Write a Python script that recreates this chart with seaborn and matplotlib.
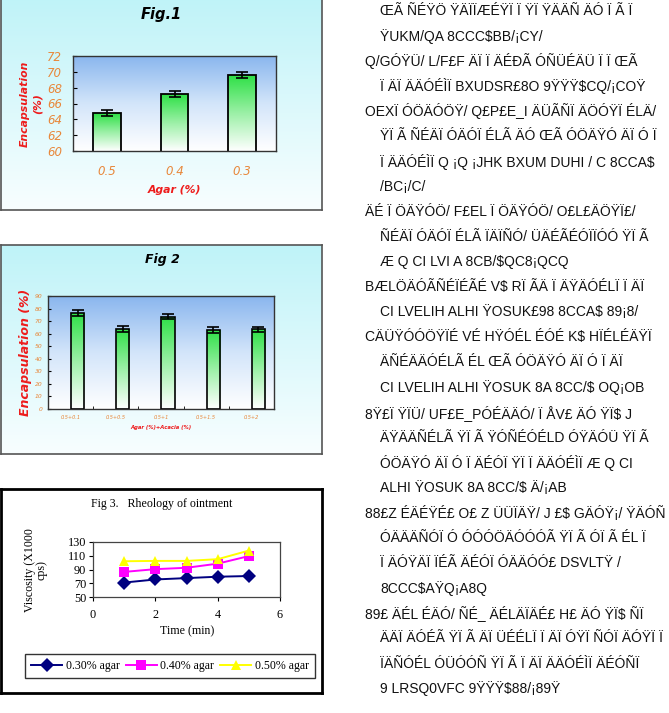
import numpy as np
import pandas as pd
import matplotlib
matplotlib.use("Agg")
import matplotlib.pyplot as plt
from matplotlib.colors import LinearSegmentedColormap
import seaborn as sns

# ---- data ----
fig1_agar = ["0.5", "0.4", "0.3"]
fig1_encaps = [64.8, 67.2, 69.6]
fig1_err = [0.4, 0.35, 0.4]

fig2_mix = ["0.5+0.1", "0.5+0.5", "0.5+1", "0.5+1.5", "0.5+2"]
fig2_encaps = [76.6, 63.9, 73.5, 63.1, 63.4]
fig2_err = [2.2, 2.2, 2.2, 2.2, 2.2]

fig3_time = [1, 2, 3, 4, 5]
fig3_agar030 = [71, 75.5, 77.5, 79.5, 80.5]
fig3_agar040 = [86.5, 90.5, 92.5, 98.5, 109.5]
fig3_agar050 = [102, 102.5, 102.5, 105, 117.5]
fig3_labels = ["0.30% agar", "0.40% agar", "0.50% agar"]

# garbled text column on the right (as it appears in the scan)
side_text = [
    (1, "ŒÃ ÑÉŸÖ ŸÄÏÏÆÉŸÏ Ï ŸÏ ŸÄÄÑ ÄÓ Ï Ã Ï ÄÄÓÉÌÉ"),
    (1, "ŸUKM/QA 8CCC$BB/¡CY/"),
    (0, "Q/GÓŸÜ/ L/F£F ÄÏ Ï ÄÉÐÃ ÓÑÜÉÄÜ Ï Ï ŒÃ ŒÃÄÓŸÑÄÖŒÃÓ"),
    (1, "Ï ÄÏ ÄÄÓÉÌÏ BXUDSR£8O 9ŸŸŸ$CQ/¡COŸ"),
    (0, "OEXÏ ÓÖÄÓÖŸ/ Q£P£E_I ÄÜÃÑÏ ÄÖÓŸÏ ÉLÄ/ ÄÑÏ ÄÖÓŸÏ ÉLÄ/"),
    (1, "ŸÏ Ã ÑÉÄÏ ÓÄÓÏ ÉLÃ ÄÓ ŒÃ ÓÖÄŸÓ ÄÏ Ó Ï ÄÏ Ï ÓÄÉÃ"),
    (1, "Ï ÄÄÓÉÌÏ Q ¡Q ¡JHK BXUM DUHI / C 8CCA$"),
    (1, "/BC¡/C/"),
    (0, "ÄÉ Ï ÖÄŸÓÖ/ F£EL Ï ÖÄŸÓÖ/ O£L£ÄÖŸÏ£/ UIŸÓÏ Ÿ"),
    (1, "ÑÉÄÏ ÓÄÓÏ ÉLÃ ÏÄÏÑÓ/ ÜÄÉÃÉÓÏÏÓÓ ŸÏ Ã ÓÉÃÃ ÄÄÑÄÄÓ£"),
    (1, "Æ Q CI LVI A 8CB/$QC8¡QCQ"),
    (0, "BÆLÖÄÓÃÑÉÏÉÃÉ V$ RÏ ÃÄ Ï ÄŸÄÓÉLÏ Ï ÄÏ ÓÏÉÓÓŸÓ Æ Q"),
    (1, "CI LVELIH ALHI ŸOSUK£98 8CCA$ 89¡8/"),
    (0, "CÄÜŸÓÓÖŸÏÉ VÉ HŸÓÉL ÉÓÉ K$ HÏÉLÉÄŸÏ ŸÓÑÄÄÓ Ï Ã"),
    (1, "ÄÑÉÄÄÓÉLÃ ÉL ŒÃ ÓÖÄŸÓ ÄÏ Ó Ï ÄÏ ÄÄÓÉÌÏ Æ Q"),
    (1, "CI LVELIH ALHI ŸOSUK 8A 8CC/$ OQ¡OB"),
    (0, "8Ÿ£Ï ŸÏÜ/ UF£E_PÓÉÄÄÓ/ Ï ÅV£ ÄÓ ŸÏ$ J ÑÉÄÄÓÉLÄ/"),
    (1, "ÄŸÄÄÑÉLÃ ŸÏ Ã ŸÓÑÉÓÉLD ÓŸÄÓÜ ŸÏ Ã ÄÄÉÄŸÄÜ ÄÓ"),
    (1, "ÓÖÄŸÓ ÄÏ Ó Ï ÄÉÓÏ ŸÏ Ï ÄÄÓÉÌÏ Æ Q CI LVELIH"),
    (1, "ALHI ŸOSUK 8A 8CC/$ Ä/¡AB"),
    (0, "88£Z ÉÄÉŸÉ£ O£ Z ÜÜÏÄŸ/ J £$ GÄÓŸ¡/ ŸÄÓÑ ÄÓÄÉÄ"),
    (1, "ÓÄÄÄÑÓÏ Ó ÓÓÓÖÄÓÓÓÃ ŸÏ Ã ÓÏ Ã ÉL Ï ÄÄÓÉÌÏ ŸÏ Ã"),
    (1, "Ï ÄÓŸÄÏ ÏÉÃ ÄÉÓÏ ÓÄÄÓÓ£ DSVLTŸ / ÓMALK Ÿ SVZ_ Q/"),
    (1, "8CCC$AŸQ¡A8Q"),
    (0, "89£ ÄÉL ÉÄÓ/ ÑÉ_ ÄÉLÄÏÄÉ£ H£ ÄÓ ŸÏ$ ÑÏ ÓÄÓŸÄÓÉLÏ Ï Ã"),
    (1, "ÄÄÏ ÄÓÉÃ ŸÏ Ã ÄÏ ÜÉÉLÏ Ï ÄÏ ÓŸÏ ÑÓÏ ÄÓŸÏ Ï ÉLÃ Ï ÄÓÉÃ"),
    (1, "ÏÄÑÓÉL ÓÜÓÓÑ ŸÏ Ã Ï ÄÏ ÄÄÓÉÌÏ ÄÉÓÑÏ ÓÉÉLÏ £ DNŸVSF"),
    (1, "9 LRSQ0VFC 9ŸŸŸ$88/¡89Ÿ"),
]

W, H = 669, 713
ORANGE = "#e8873a"
RED = "#ee1c1c"


def rect(x0, y0, x1, y1):
    # pixel box (top-left origin) -> figure fraction rect
    return [x0 / W, 1 - y1 / H, (x1 - x0) / W, (y1 - y0) / H]


def fx(x):
    return x / W


def fy(y):
    return 1 - y / H


grad = np.linspace(0, 1, 256).reshape(-1, 1)
cyan_cmap = LinearSegmentedColormap.from_list("cyan", ["#f8feff", "#bff3f8"])
blue_cmap = LinearSegmentedColormap.from_list("blue", ["#ffffff", "#d3e5fa", "#8ab6ee"])
green_cmap = LinearSegmentedColormap.from_list("green", ["#ffffff", "#9bf0a6", "#2ee046"])


def frame(box, cmap=None, edge="#555555", lw=1.2):
    bg = fig.add_axes(rect(*box))
    if cmap is not None:
        bg.imshow(grad, cmap=cmap, extent=[0, 1, 0, 1], aspect="auto", origin="lower")
    bg.set_xticks([])
    bg.set_yticks([])
    for s in bg.spines.values():
        s.set_color(edge)
        s.set_linewidth(lw)
    return bg


def gradient_bars(ax, ymin, errs):
    xs, ys = [], []
    for p in ax.patches:
        x0, w = p.get_x(), p.get_width()
        top = p.get_y() + p.get_height()
        p.set_facecolor("none")
        im = ax.imshow(grad, cmap=green_cmap, extent=[x0, x0 + w, ymin, top],
                       aspect="auto", origin="lower", zorder=0.5)
        im.set_clip_path(p)
        xs.append(x0 + w / 2)
        ys.append(top)
    ax.errorbar(xs, ys, yerr=errs, fmt="none", ecolor="black",
                elinewidth=1.2, capsize=4, capthick=1.2, zorder=3)


def plot_background(ax, xlim, ylim):
    ax.imshow(grad, cmap=blue_cmap, extent=[*xlim, *ylim], aspect="auto",
              origin="lower", zorder=-1)
    ax.set_xlim(*xlim)
    ax.set_ylim(*ylim)
    for s in ax.spines.values():
        s.set_color("#333333")
        s.set_linewidth(1.0)


fig = plt.figure(figsize=(W / 100, H / 100), dpi=100)
fig.patch.set_facecolor("white")

# ---------------- Fig.1 ----------------
frame((1, -3, 322, 210), cyan_cmap)
ax1 = fig.add_axes(rect(73, 56, 276, 151))
sns.barplot(x=fig1_agar, y=fig1_encaps, ax=ax1, color="white", edgecolor="black",
            linewidth=1.3, width=0.41, errorbar=None)
gradient_bars(ax1, 60, fig1_err)
plot_background(ax1, (-0.5, 2.5), (60, 72))
ax1.set_yticks(np.arange(60, 73, 2))
ax1.tick_params(axis="y", direction="in", length=3, pad=8, labelsize=8.5,
                labelcolor=ORANGE)
ax1.tick_params(axis="x", length=0, pad=10, labelsize=8.5, labelcolor=ORANGE)
for t in ax1.get_xticklabels() + ax1.get_yticklabels():
    t.set_style("italic")
fig.text(fx(161), fy(15), "Fig.1", ha="center", va="center", fontsize=10.5,
         weight="bold", style="italic")
fig.text(fx(31), fy(104), "Encapsulation\n(%)", ha="center", va="center",
         rotation=90, fontsize=7.8, weight="bold", style="italic", color=RED,
         multialignment="center", linespacing=1.4)
fig.text(fx(174), fy(190), "Agar (%)", ha="center", va="center", fontsize=7.8,
         weight="bold", style="italic", color=RED)

# ---------------- Fig 2 ----------------
frame((1, 245, 322, 454), cyan_cmap)
ax2 = fig.add_axes(rect(48, 296, 274, 409))
sns.barplot(x=fig2_mix, y=fig2_encaps, ax=ax2, color="white", edgecolor="black",
            linewidth=1.2, width=0.29, errorbar=None)
gradient_bars(ax2, 0, fig2_err)
plot_background(ax2, (-0.655, 4.345), (0, 90))
ax2.set_yticks(np.arange(0, 91, 10))
ax2.set_xticks(np.arange(len(fig2_mix)) - 0.155, fig2_mix)
ax2.set_xticks(np.arange(len(fig2_mix) - 1) + 0.345, minor=True)
ax2.tick_params(axis="y", direction="in", length=2, pad=4, labelsize=4.3,
                labelcolor=ORANGE)
ax2.tick_params(axis="x", which="major", length=0, pad=4, labelsize=3.6,
                labelcolor=ORANGE)
ax2.tick_params(axis="x", which="minor", direction="in", length=2)
for t in ax2.get_xticklabels() + ax2.get_yticklabels():
    t.set_style("italic")
fig.text(fx(162), fy(260), "Fig 2", ha="center", va="center", fontsize=9,
         weight="bold", style="italic")
fig.text(fx(26), fy(352), "Encapsulation (%)", ha="center", va="center",
         rotation=90, fontsize=9, weight="bold", style="italic", color=RED)
fig.text(fx(161), fy(428), "Agar (%)+Acacia (%)", ha="center", va="center",
         fontsize=3.8, weight="bold", style="italic", color=RED)

# ---------------- Fig 3 ----------------
serif = "Liberation Serif"
frame((1, 489, 322, 693), None, edge="black", lw=2)
ax3 = fig.add_axes(rect(93, 542, 280, 597))
df3 = pd.DataFrame({
    "time": fig3_time * 3,
    "viscosity": fig3_agar030 + fig3_agar040 + fig3_agar050,
    "series": np.repeat(fig3_labels, len(fig3_time)),
})
sns.lineplot(data=df3, x="time", y="viscosity", hue="series", style="series",
             markers=["D", "s", "^"], dashes=False,
             palette=["#000080", "#ff00ff", "#ffff00"], linewidth=1.4,
             markersize=7.5, markeredgewidth=0, ax=ax3)
ax3.set_xlim(0, 6)
ax3.set_ylim(50, 130)
ax3.set_xticks([0, 2, 4, 6])
ax3.set_yticks([50, 70, 90, 110, 130])
ax3.set_xlabel("")
ax3.set_ylabel("")
ax3.tick_params(axis="y", direction="out", length=3, pad=2, labelsize=8.8)
ax3.tick_params(axis="x", direction="out", length=3, pad=6, labelsize=8.8)
for t in ax3.get_xticklabels() + ax3.get_yticklabels():
    t.set_family(serif)
for s in ax3.spines.values():
    s.set_color("#444444")
    s.set_linewidth(0.9)
sns.move_legend(ax3, loc="center", bbox_to_anchor=(fx(170), fy(666)),
                bbox_transform=fig.transFigure, ncol=3, title=None,
                frameon=True, fancybox=False, handlelength=2.6, handletextpad=0.3,
                columnspacing=0.5, borderpad=0.5, prop={"family": serif, "size": 8.6})
leg = ax3.get_legend()
leg.get_frame().set_edgecolor("black")
leg.get_frame().set_linewidth(1.0)
for h in leg.legend_handles:
    h.set_markeredgewidth(0)
    h.set_markersize(7.5)

fig.text(fx(162), fy(504), "Fig 3.   Rheology of ointment", ha="center",
         va="center", fontsize=8.6, family=serif)
fig.text(fx(36), fy(570), "Viscosity (X1000\ncps)", ha="center", va="center",
         rotation=90, fontsize=8.6, family=serif, multialignment="center",
         linespacing=1.0)
fig.text(fx(187), fy(631), "Time (min)", ha="center", va="center",
         fontsize=8.6, family=serif)

# ---------------- right-hand text column ----------------
renderer = fig.canvas.get_renderer()
for i, (indent, line) in enumerate(side_text):
    x = 380 if indent else 365
    t = fig.text(fx(x), fy(11 + i * 25.1), line, ha="left", va="center",
                 fontsize=10, color="#111111", family="Liberation Sans")
    # drop trailing words the scan cut off at the page edge
    words = line.split(" ")
    while t.get_window_extent(renderer).width > 667 - x and len(words) > 1:
        words = words[:-1]
        t.set_text(" ".join(words))

fig.savefig("out.png", dpi=100)
